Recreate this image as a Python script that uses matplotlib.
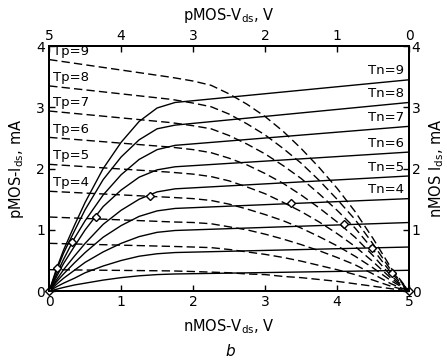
import numpy as np
import matplotlib
matplotlib.use('Agg')
import matplotlib.pyplot as plt

# nMOS curves (solid), Tn = 1..9, I_ds in mA at the voltages in v_n
v_n = [0, 0.1, 0.2, 0.35, 0.5, 0.75, 1.0, 1.25, 1.5, 1.75, 5.0]
i_n = [
    [0, 0.03, 0.06, 0.10, 0.13, 0.18, 0.22, 0.25, 0.27, 0.28, 0.34],
    [0, 0.07, 0.13, 0.21, 0.30, 0.41, 0.50, 0.57, 0.61, 0.63, 0.72],
    [0, 0.11, 0.21, 0.34, 0.47, 0.64, 0.78, 0.89, 0.96, 0.99, 1.12],
    [0, 0.15, 0.28, 0.46, 0.63, 0.88, 1.07, 1.22, 1.31, 1.35, 1.51],
    [0, 0.18, 0.35, 0.57, 0.78, 1.09, 1.32, 1.50, 1.62, 1.67, 1.88],
    [0, 0.23, 0.45, 0.73, 1.00, 1.38, 1.65, 1.86, 1.98, 2.03, 2.27],
    [0, 0.27, 0.52, 0.86, 1.15, 1.57, 1.90, 2.15, 2.31, 2.38, 2.69],
    [0, 0.33, 0.62, 0.98, 1.33, 1.82, 2.19, 2.47, 2.65, 2.71, 3.08],
    [0, 0.36, 0.67, 1.07, 1.45, 2.00, 2.43, 2.77, 2.99, 3.08, 3.45],
]

# pMOS curves (dashed), Tp = 1..9, plotted against nMOS V_ds
v_p = [0, 1.7, 2.0, 2.25, 2.5, 2.75, 3.0, 3.25, 3.5, 3.75, 4.0, 4.25, 4.5, 4.75, 5.0]
i_p = [
    [0.35, 0.33, 0.32, 0.31, 0.30, 0.28, 0.27, 0.24, 0.22, 0.19, 0.16, 0.12, 0.08, 0.04, 0],
    [0.78, 0.73, 0.72, 0.71, 0.68, 0.64, 0.60, 0.55, 0.49, 0.42, 0.35, 0.27, 0.18, 0.08, 0],
    [1.21, 1.13, 1.12, 1.10, 1.05, 1.00, 0.93, 0.85, 0.76, 0.66, 0.55, 0.43, 0.28, 0.12, 0],
    [1.63, 1.53, 1.51, 1.48, 1.42, 1.34, 1.25, 1.15, 1.03, 0.89, 0.74, 0.57, 0.38, 0.17, 0],
    [2.07, 1.94, 1.91, 1.87, 1.80, 1.70, 1.59, 1.45, 1.30, 1.13, 0.94, 0.73, 0.48, 0.21, 0],
    [2.51, 2.35, 2.31, 2.26, 2.17, 2.06, 1.92, 1.76, 1.57, 1.36, 1.13, 0.88, 0.58, 0.25, 0],
    [2.94, 2.75, 2.70, 2.65, 2.54, 2.40, 2.24, 2.05, 1.84, 1.59, 1.32, 1.03, 0.68, 0.30, 0],
    [3.35, 3.13, 3.07, 3.01, 2.89, 2.73, 2.55, 2.33, 2.09, 1.81, 1.50, 1.17, 0.77, 0.34, 0],
    [3.78, 3.49, 3.43, 3.36, 3.22, 3.05, 2.85, 2.61, 2.33, 2.02, 1.68, 1.30, 0.86, 0.38, 0],
]

# operating points (Tn = k with Tp = 9-k)
dia_v = [0, 0.11, 0.32, 0.65, 1.40, 3.36, 4.09, 4.49, 4.76, 5.0]
dia_i = [0, 0.38, 0.81, 1.21, 1.56, 1.44, 1.09, 0.70, 0.30, 0]

x_ticks = [0, 1, 2, 3, 4, 5]
y_ticks = [0, 1, 2, 3, 4]
fs = 10

fig = plt.figure(figsize=(4.47, 3.63), dpi=100)
ax = fig.add_axes([0.110, 0.198, 0.805, 0.675])

for row in i_n:
    ax.plot(v_n, row, color='black', lw=1.0)
for row in i_p:
    ax.plot(v_p, row, color='black', lw=1.0, linestyle=(0, (6, 3)))
ax.plot(dia_v, dia_i, linestyle='none', marker='D', markersize=4.5,
        markerfacecolor='white', markeredgecolor='black', markeredgewidth=1.0,
        zorder=5, clip_on=False)

# curve labels
for k in range(4, 10):
    ax.text(0.05, i_p[k - 1][0] + 0.03, 'Tp=' + str(k), fontsize=9.5,
            ha='left', va='bottom')
    ax.text(4.93, i_n[k - 1][-1] + 0.04, 'Tn=' + str(k), fontsize=9.5,
            ha='right', va='bottom')

ax.set_xlim(0, 5)
ax.set_ylim(0, 4)
ax.set_xticks(x_ticks)
ax.set_yticks(y_ticks)
ax.tick_params(direction='in', length=4, width=1, labelsize=fs, pad=3)
ax.set_xlabel('nMOS-V$_{\\rm ds}$, V', fontsize=10.5, labelpad=6)
ax.set_ylabel('pMOS-I$_{\\rm ds}$, mA', fontsize=10.5, labelpad=7)

top = ax.twiny()
top.set_xlim(5, 0)
top.set_xticks(x_ticks)
top.tick_params(direction='in', length=4, width=1, labelsize=fs, pad=2)
top.set_xlabel('pMOS-V$_{\\rm ds}$, V', fontsize=10.5, labelpad=7)

right = ax.twinx()
right.set_ylim(0, 4)
right.set_yticks(y_ticks)
right.tick_params(direction='in', length=4, width=1, labelsize=fs, pad=2)
right.set_ylabel('nMOS I$_{\\rm ds}$, mA', fontsize=10.5, rotation=90, labelpad=5)

for a in (ax, top, right):
    for s in a.spines.values():
        s.set_linewidth(1.2)

fig.text(0.515, 0.02, 'b', fontsize=11, style='italic', ha='center')

fig.savefig('out.png', dpi=100)
